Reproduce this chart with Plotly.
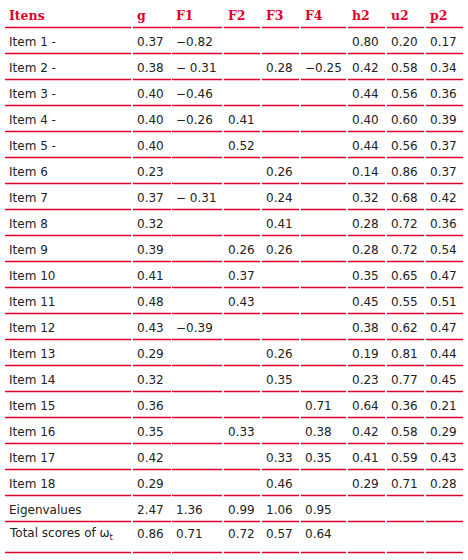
import plotly.graph_objects as go

headers = ["Itens", "g", "F1", "F2", "F3", "F4", "h2", "u2", "p2"]
row_labels = [f"Item {i} -" if i <= 5 else f"Item {i}" for i in range(1, 19)] + ["Eigenvalues", "Total scores of ω<sub>t</sub>"]
g  = ["0.37","0.38","0.40","0.40","0.40","0.23","0.37","0.32","0.39","0.41","0.48","0.43","0.29","0.32","0.36","0.35","0.42","0.29","2.47","0.86"]
F1 = ["−0.82","− 0.31","−0.46","−0.26","","","− 0.31","","","","","−0.39","","","","","","","1.36","0.71"]
F2 = ["","","","0.41","0.52","","","","0.26","0.37","0.43","","","","","0.33","","","0.99","0.72"]
F3 = ["","0.28","","","","0.26","0.24","0.41","0.26","","","","0.26","0.35","","","0.33","0.46","1.06","0.57"]
F4 = ["","−0.25","","","","","","","","","","","","","0.71","0.38","0.35","","0.95","0.64"]
h2 = ["0.80","0.42","0.44","0.40","0.44","0.14","0.32","0.28","0.28","0.35","0.45","0.38","0.19","0.23","0.64","0.42","0.41","0.29","",""]
u2 = ["0.20","0.58","0.56","0.60","0.56","0.86","0.68","0.72","0.72","0.65","0.55","0.62","0.81","0.77","0.36","0.58","0.59","0.71","",""]
p2 = ["0.17","0.34","0.36","0.39","0.37","0.37","0.42","0.36","0.54","0.47","0.51","0.47","0.44","0.45","0.21","0.29","0.43","0.28","",""]
columns = [row_labels, g, F1, F2, F3, F4, h2, u2, p2]

RED = "#e0002a"
col_edges = [(5, 131), (133, 171), (172, 222), (224, 260), (262, 299), (301, 346), (348, 385), (387, 424), (426, 463)]
row_h = [26] * 20 + [31]
row_h[0] = 28  # header
tops = [0]
for h in row_h:
    tops.append(tops[-1] + h)

fig = go.Figure()
shapes, ann = [], []
for r in range(21):
    y0, y1 = tops[r], tops[r + 1]
    for c, (x0, x1) in enumerate(col_edges):
        shapes.append(dict(type="line", x0=x0, x1=x1, y0=y1 - 0.5, y1=y1 - 0.5,
                           line=dict(color=RED, width=1.3), xref="x", yref="y"))
        if r == 0:
            txt = f"<b>{headers[c]}</b>"
            font = dict(family="DejaVu Serif", size=12.5, color=RED)
            yc = y1 - 13
        else:
            txt = columns[c][r - 1]
            font = dict(family="DejaVu Sans", size=12, color="#222")
            yc = (y0 + y1) / 2 + 1
            if r == 20:
                yc = y0 + 12
        if txt:
            ann.append(dict(x=x0 + 2, y=yc, text=txt, showarrow=False, xanchor="left",
                            yanchor="middle", font=font, xref="x", yref="y"))

fig.add_trace(go.Scatter(x=[0, 468], y=[0, 560], mode="markers", marker=dict(opacity=0), hoverinfo="skip"))
fig.update_layout(width=468, height=560, margin=dict(l=0, r=0, t=0, b=0),
                  paper_bgcolor="white", plot_bgcolor="white", showlegend=False,
                  shapes=shapes, annotations=ann,
                  xaxis=dict(range=[0, 468], visible=False, fixedrange=True),
                  yaxis=dict(range=[560, 0], visible=False, fixedrange=True))
fig.write_html("out.html", config={"displayModeBar": False},
               post_script="document.body.style.margin='0';document.body.style.overflow='hidden';")
